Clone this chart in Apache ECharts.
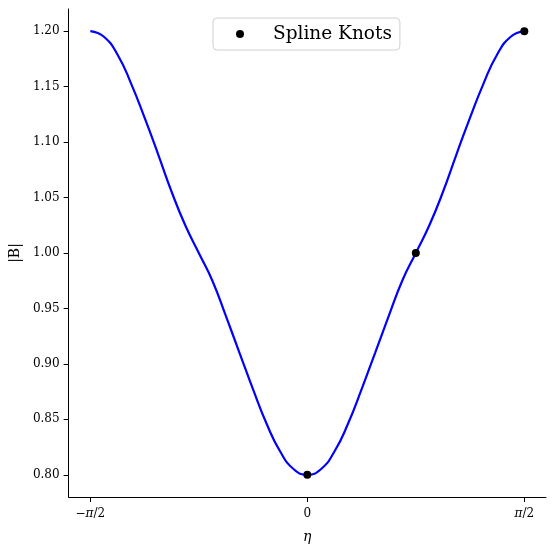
<!DOCTYPE html>
<html>
<head>
<meta charset="utf-8">
<script src="https://cdn.jsdelivr.net/npm/echarts@6/dist/echarts.min.js"></script>
<style>
  html, body { margin: 0; padding: 0; background: #fff; }
  #contain { width: 554px; height: 554px; }
</style>
</head>
<body>
<div id="contain"></div>
<script>
var HALF_PI = Math.PI / 2;

/* curve samples, every pi/32 */
var etaValues = [
  -1.5708, -1.4726, -1.3744, -1.2763, -1.1781, -1.0799, -0.9817, -0.8836,
  -0.7854, -0.6872, -0.5890, -0.4909, -0.3927, -0.2945, -0.1963, -0.0982,
  0.0000,
  0.0982, 0.1963, 0.2945, 0.3927, 0.4909, 0.5890, 0.6872, 0.7854,
  0.8836, 0.9817, 1.0799, 1.1781, 1.2763, 1.3744, 1.4726, 1.5708
];
var bValues = [
  1.200, 1.195, 1.179, 1.153, 1.122, 1.089, 1.055, 1.025,
  1.000, 0.975, 0.943, 0.910, 0.877, 0.846, 0.821, 0.805,
  0.800,
  0.805, 0.821, 0.846, 0.877, 0.910, 0.943, 0.975, 1.000,
  1.025, 1.055, 1.089, 1.122, 1.153, 1.179, 1.195, 1.200
];

/* spline knots */
var knotEta = [0, Math.PI / 4, HALF_PI];
var knotB = [0.80, 1.00, 1.20];

/* ticks */
var xTicks = [-HALF_PI, 0, HALF_PI];
var yTicks = [0.80, 0.85, 0.90, 0.95, 1.00, 1.05, 1.10, 1.15, 1.20];

function pairs(xs, ys) {
    var out = [];
    for (var i = 0; i < xs.length; i++) {
        out.push([xs[i], ys[i]]);
    }
    return out;
}

function piLabel(v) {
    if (Math.abs(v) < 1e-9) {
        return '{n|0}';
    }
    return v < 0 ? '{n|\u2212}{i|\u03c0}{n|/2}' : '{i|\u03c0}{n|/2}';
}

var serif = "'DejaVu Serif', serif";
var myChart = echarts.init(document.getElementById("contain"));
myChart.setOption({
    animation: false,
    grid: {
        left: 68,
        top: 9,
        right: 8,
        bottom: 57
    },
    legend: {
        data: ['Spline Knots'],
        left: 213,
        top: 18,
        icon: 'circle',
        itemWidth: 8,
        itemHeight: 8,
        padding: [5, 8, 5, 23],
        borderColor: '#d0d0d0',
        borderWidth: 1,
        borderRadius: 4,
        backgroundColor: '#ffffff',
        textStyle: {
            fontFamily: serif,
            fontSize: 18.5,
            lineHeight: 22,
            color: '#000',
            padding: [0, 0, 0, 24]
        }
    },
    xAxis: {
        type: 'value',
        min: -1.7279,
        max: 1.7279,
        name: '\u03b7',
        nameLocation: 'middle',
        nameGap: 33,
        nameTextStyle: {
            fontFamily: serif,
            fontStyle: 'italic',
            fontSize: 14,
            color: '#000'
        },
        splitLine: { show: false },
        axisLine: { onZero: false, lineStyle: { color: '#000', width: 1 } },
        axisTick: {
            length: 5,
            customValues: xTicks,
            lineStyle: { color: '#000' }
        },
        axisLabel: {
            customValues: xTicks,
            margin: 11,
            formatter: piLabel,
            rich: {
                n: { fontFamily: serif, fontSize: 12, color: '#000' },
                i: { fontFamily: serif, fontStyle: 'italic', fontSize: 12, color: '#000' }
            }
        }
    },
    yAxis: {
        type: 'value',
        min: 0.78,
        max: 1.22,
        name: '|B|',
        nameLocation: 'middle',
        nameGap: 37,
        nameRotate: 90,
        nameTextStyle: {
            fontFamily: serif,
            fontSize: 14,
            color: '#000'
        },
        splitLine: { show: false },
        axisLine: { onZero: false, lineStyle: { color: '#000', width: 1 } },
        axisTick: {
            length: 5,
            customValues: yTicks,
            lineStyle: { color: '#000' }
        },
        axisLabel: {
            customValues: yTicks,
            margin: 9,
            fontFamily: serif,
            fontSize: 12,
            color: '#000',
            formatter: function (v) {
                return v.toFixed(2);
            }
        }
    },
    series: [
        {
            name: 'B',
            type: 'line',
            data: pairs(etaValues, bValues),
            smooth: 0.5,
            showSymbol: false,
            lineStyle: { color: '#0000ff', width: 2.2 },
            z: 2
        },
        {
            name: 'Spline Knots',
            type: 'scatter',
            data: pairs(knotEta, knotB),
            symbolSize: 8,
            itemStyle: { color: '#000', opacity: 1 },
            z: 3
        }
    ]
});
</script>
</body>
</html>
